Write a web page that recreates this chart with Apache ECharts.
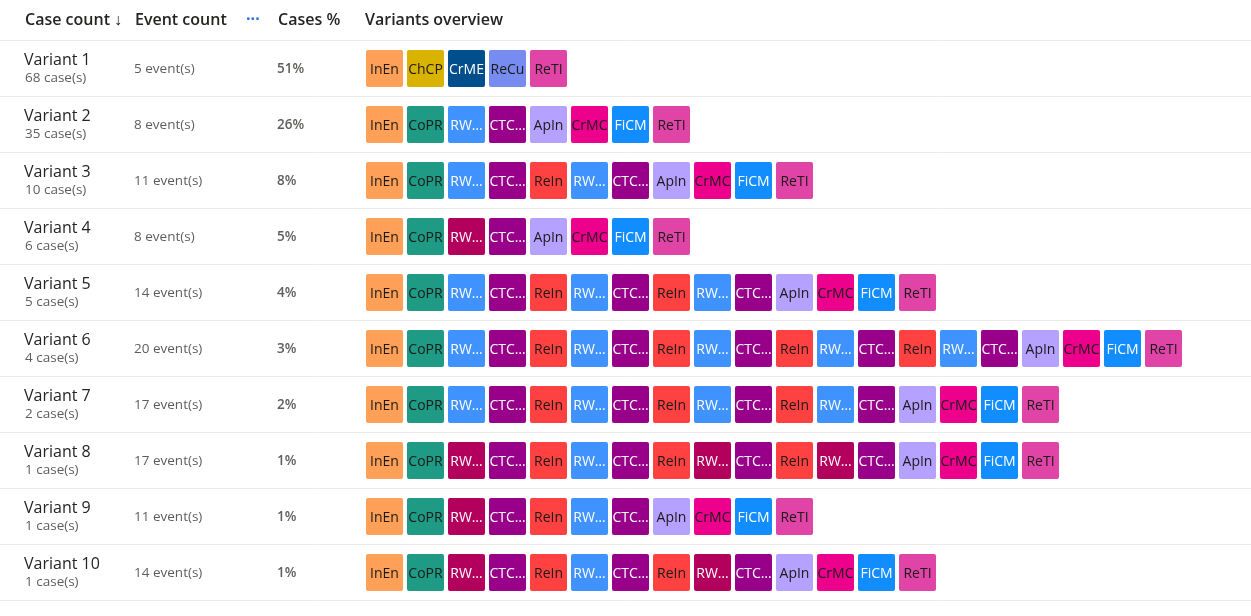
<!DOCTYPE html>
<html>
<head>
<meta charset="utf-8">
<script src="https://cdn.jsdelivr.net/npm/echarts@6/dist/echarts.min.js"></script>
<style>
  html, body { margin: 0; padding: 0; background: #fff; }
  #main { width: 1251px; height: 616px; }
</style>
</head>
<body>
<div id="main"></div>
<script>
  // 数据
  const variants = ['Variant 1', 'Variant 2', 'Variant 3', 'Variant 4', 'Variant 5',
    'Variant 6', 'Variant 7', 'Variant 8', 'Variant 9', 'Variant 10'];
  const caseCounts = [68, 35, 10, 6, 5, 4, 2, 1, 1, 1];
  const eventCounts = [5, 8, 11, 8, 14, 20, 17, 17, 11, 14];
  const casePct = [51, 26, 8, 5, 4, 3, 2, 1, 1, 1];
  const headers = ['Case count \u2193', 'Event count', 'Cases %', 'Variants overview'];

  const activityLabels = {
    InEn: 'InEn', ChCP: 'ChCP', CrME: 'CrME', ReCu: 'ReCu', ReTI: 'ReTI', CoPR: 'CoPR',
    RW: 'RW\u2026', RWd: 'RW\u2026', CTC: 'CTC\u2026', ReIn: 'ReIn', ApIn: 'ApIn',
    CrMC: 'CrMC', FiCM: 'FiCM'
  };
  const activityColors = {
    InEn: '#FFA058', ChCP: '#D9B300', CrME: '#004E8C', ReCu: '#768CF0', ReTI: '#E044A7',
    CoPR: '#1F9A85', RW: '#4092FF', RWd: '#B3005C', CTC: '#99008A', ReIn: '#FF4141',
    ApIn: '#B5A1FF', CrMC: '#EC008C', FiCM: '#118DFF'
  };
  const whiteText = ['CrME', 'RW', 'RWd', 'CTC', 'FiCM'];

  const sequences = [
    ['InEn', 'ChCP', 'CrME', 'ReCu', 'ReTI'],
    ['InEn', 'CoPR', 'RW', 'CTC', 'ApIn', 'CrMC', 'FiCM', 'ReTI'],
    ['InEn', 'CoPR', 'RW', 'CTC', 'ReIn', 'RW', 'CTC', 'ApIn', 'CrMC', 'FiCM', 'ReTI'],
    ['InEn', 'CoPR', 'RWd', 'CTC', 'ApIn', 'CrMC', 'FiCM', 'ReTI'],
    ['InEn', 'CoPR', 'RW', 'CTC', 'ReIn', 'RW', 'CTC', 'ReIn', 'RW', 'CTC', 'ApIn', 'CrMC', 'FiCM', 'ReTI'],
    ['InEn', 'CoPR', 'RW', 'CTC', 'ReIn', 'RW', 'CTC', 'ReIn', 'RW', 'CTC', 'ReIn', 'RW', 'CTC', 'ReIn', 'RW', 'CTC', 'ApIn', 'CrMC', 'FiCM', 'ReTI'],
    ['InEn', 'CoPR', 'RW', 'CTC', 'ReIn', 'RW', 'CTC', 'ReIn', 'RW', 'CTC', 'ReIn', 'RW', 'CTC', 'ApIn', 'CrMC', 'FiCM', 'ReTI'],
    ['InEn', 'CoPR', 'RWd', 'CTC', 'ReIn', 'RW', 'CTC', 'ReIn', 'RWd', 'CTC', 'ReIn', 'RWd', 'CTC', 'ApIn', 'CrMC', 'FiCM', 'ReTI'],
    ['InEn', 'CoPR', 'RWd', 'CTC', 'ReIn', 'RW', 'CTC', 'ApIn', 'CrMC', 'FiCM', 'ReTI'],
    ['InEn', 'CoPR', 'RWd', 'CTC', 'ReIn', 'RW', 'CTC', 'ReIn', 'RWd', 'CTC', 'ApIn', 'CrMC', 'FiCM', 'ReTI']
  ];

  const FONT = '"Segoe UI", "Open Sans", sans-serif';

  // 每个方块: [步骤, 行, 活动]
  let boxData = [];
  for (let r = 0; r < sequences.length; r++) {
    for (let i = 0; i < sequences[r].length; i++) {
      boxData.push([i, r, sequences[r][i]]);
    }
  }
  let rowData = variants.map(function (v, r) { return [0, r]; });

  let myChart = echarts.init(document.getElementById('main'));
  myChart.setOption({
    animation: false,
    grid: { left: 0, right: 0, top: 40, bottom: 16 },
    xAxis: {
      type: 'value',
      min: -366 / 41,
      max: 885 / 41,
      show: false
    },
    yAxis: {
      type: 'category',
      data: variants,
      inverse: true,
      axisLine: { show: false },
      axisTick: { show: false },
      axisLabel: { show: false },
      splitLine: { show: true, lineStyle: { color: '#EDEBE9', width: 1 } }
    },
    graphic: [
      { type: 'text', left: 25, top: 12, style: { text: headers[0], font: '600 16px ' + FONT, fill: '#252423' } },
      { type: 'text', left: 135, top: 12, style: { text: headers[1], font: '600 16px ' + FONT, fill: '#252423' } },
      { type: 'text', left: 246, top: 11, style: { text: '\u00b7\u00b7\u00b7', font: 'bold 16px ' + FONT, fill: '#2F6FE0' } },
      { type: 'text', left: 278, top: 12, style: { text: headers[2], font: '600 16px ' + FONT, fill: '#252423' } },
      { type: 'text', left: 365, top: 12, style: { text: headers[3], font: '600 16px ' + FONT, fill: '#252423' } }
    ],
    series: [
      {
        type: 'custom',
        name: 'rows',
        data: rowData,
        silent: true,
        renderItem: function (params, api) {
          let r = api.value(1);
          let y = api.coord([0, r])[1];
          return {
            type: 'group',
            children: [
              { type: 'text', style: { text: variants[r], x: 24, y: y - 8, verticalAlign: 'middle', font: '16px ' + FONT, fill: '#252423' } },
              { type: 'text', style: { text: caseCounts[r] + ' case(s)', x: 25, y: y + 10, verticalAlign: 'middle', font: '13.5px ' + FONT, fill: '#605E5C' } },
              { type: 'text', style: { text: eventCounts[r] + ' event(s)', x: 134, y: y + 1.5, verticalAlign: 'middle', font: '13.5px ' + FONT, fill: '#605E5C' } },
              { type: 'text', style: { text: casePct[r] + '%', x: 277, y: y + 1.5, verticalAlign: 'middle', font: '600 13.5px ' + FONT, fill: '#605E5C' } }
            ]
          };
        }
      },
      {
        type: 'custom',
        name: 'boxes',
        data: boxData.map(function (d) { return [d[0], d[1]]; }),
        silent: true,
        renderItem: function (params, api) {
          let p = api.coord([api.value(0), api.value(1)]);
          let unit = api.size([1, 1]);
          let w = unit[0] - 4, h = 37;
          let code = boxData[params.dataIndex][2];
          return {
            type: 'group',
            children: [
              { type: 'rect', shape: { x: p[0], y: p[1] - h / 2 + 0.5, width: w, height: h, r: 2 }, style: { fill: activityColors[code] } },
              { type: 'text', style: {
                  text: activityLabels[code], x: p[0] + w / 2, y: p[1] + 2.5,
                  align: 'center', verticalAlign: 'middle', font: '14px ' + FONT,
                  fill: whiteText.indexOf(code) >= 0 ? '#FFFFFF' : '#1B1A19'
              } }
            ]
          };
        }
      }
    ]
  });
</script>
</body>
</html>
